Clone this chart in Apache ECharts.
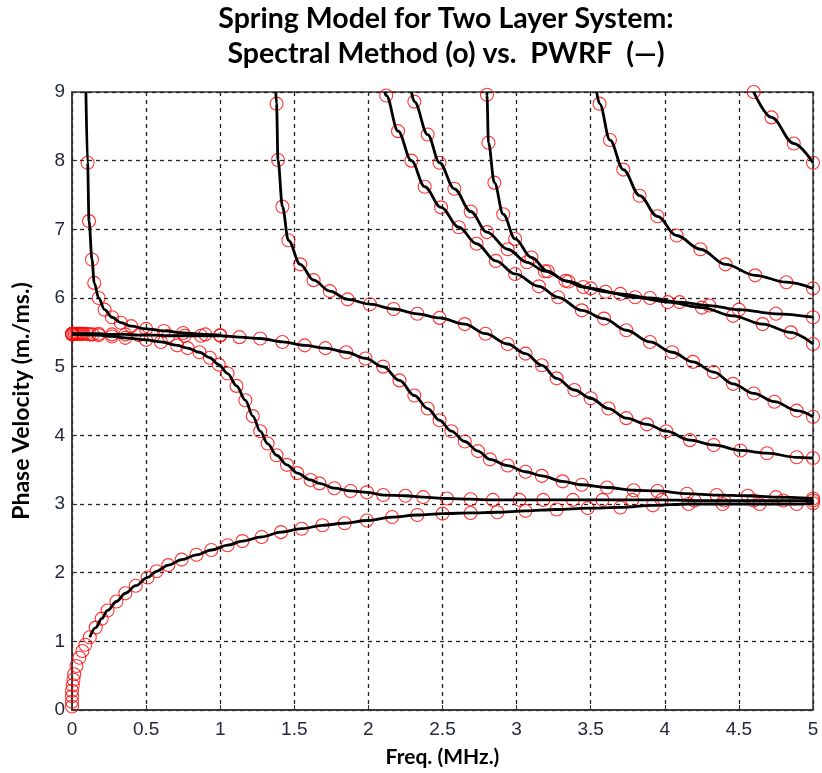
<!DOCTYPE html>
<html>
<head>
<meta charset="utf-8">
<title>Spring Model for Two Layer System</title>
<script src="https://cdn.jsdelivr.net/npm/echarts@6/dist/echarts.min.js"></script>
<style>
  html, body { margin: 0; padding: 0; background: #fff; }
  #chart { width: 822px; height: 773px; }
</style>
</head>
<body>
<div id="chart"></div>
<script>
// x = frequency (MHz), y = phase velocity (m/ms)
const xTicks = [0, 0.5, 1, 1.5, 2, 2.5, 3, 3.5, 4, 4.5, 5];
const yTicks = [0, 1, 2, 3, 4, 5, 6, 7, 8, 9];

const modeA = [
  [0, 0.05], [0, 0.12], [0, 0.2], [0, 0.28], [0.005, 0.36], [0.01, 0.44], [0.015, 0.52],
  [0.03, 0.64], [0.05, 0.76], [0.07, 0.86], [0.09, 0.95], [0.12, 1.06], [0.16, 1.2],
  [0.2, 1.33], [0.24, 1.45], [0.3, 1.58], [0.36, 1.7], [0.43, 1.81], [0.51, 1.93],
  [0.57, 2.02], [0.65, 2.11], [0.74, 2.19], [0.84, 2.26], [0.94, 2.33], [1.05, 2.4],
  [1.15, 2.46], [1.28, 2.52], [1.41, 2.59], [1.55, 2.64], [1.69, 2.69], [1.84, 2.72],
  [1.99, 2.76], [2.16, 2.81], [2.33, 2.84], [2.5, 2.86], [2.69, 2.87], [2.87, 2.88],
  [3.06, 2.9], [3.27, 2.92], [3.48, 2.94], [3.7, 2.95], [3.92, 2.98], [4.16, 3.0],
  [4.39, 3.0], [4.64, 3.0], [4.89, 3.0], [5.0, 3.01]
];

const modeB = [
  [0, 5.47], [0.18, 5.46], [0.27, 5.44], [0.36, 5.42], [0.5, 5.39], [0.6, 5.36],
  [0.71, 5.31], [0.78, 5.27], [0.86, 5.21], [0.93, 5.13], [0.99, 5.03], [1.05, 4.9],
  [1.11, 4.72], [1.17, 4.51], [1.22, 4.28], [1.27, 4.06], [1.32, 3.88], [1.38, 3.71],
  [1.45, 3.57], [1.52, 3.45], [1.61, 3.35], [1.67, 3.3], [1.77, 3.23], [1.88, 3.19],
  [1.99, 3.17], [2.1, 3.13], [2.25, 3.12], [2.37, 3.1], [2.53, 3.08], [2.69, 3.07],
  [2.84, 3.06], [3.02, 3.06], [3.18, 3.06], [3.38, 3.06], [3.58, 3.06], [3.78, 3.06],
  [3.98, 3.06], [4.2, 3.05], [4.4, 3.05], [4.6, 3.05], [4.8, 3.05], [5.0, 3.05]
];

const modeC = [
  [0, 5.48], [0.18, 5.48], [0.27, 5.47], [0.36, 5.47], [0.45, 5.46], [0.55, 5.46],
  [0.65, 5.45], [0.76, 5.45], [0.87, 5.45], [1.0, 5.45], [1.13, 5.43], [1.27, 5.41],
  [1.42, 5.36], [1.57, 5.31], [1.71, 5.27], [1.85, 5.21], [1.98, 5.12], [2.1, 5.0],
  [2.21, 4.8], [2.31, 4.58], [2.4, 4.39], [2.48, 4.22], [2.56, 4.06], [2.65, 3.91],
  [2.74, 3.77], [2.82, 3.65], [2.94, 3.56], [3.06, 3.47], [3.17, 3.41], [3.31, 3.33],
  [3.44, 3.28], [3.61, 3.24], [3.79, 3.2], [3.95, 3.19], [4.15, 3.15], [4.35, 3.13],
  [4.56, 3.12], [4.75, 3.1], [5.0, 3.08]
];

const modeD = [
  [0.105, 7.97], [0.115, 7.12], [0.135, 6.56], [0.15, 6.22], [0.18, 6.0], [0.22, 5.83],
  [0.27, 5.72], [0.33, 5.64], [0.4, 5.59], [0.5, 5.55], [0.62, 5.52], [0.75, 5.49],
  [0.9, 5.47], [1.0, 5.46]
];

const modeE = [
  [1.38, 8.83], [1.39, 8.01], [1.42, 7.33], [1.46, 6.84], [1.54, 6.49], [1.63, 6.26],
  [1.74, 6.1], [1.86, 5.98], [2.01, 5.91], [2.17, 5.84], [2.33, 5.77], [2.48, 5.71],
  [2.65, 5.62], [2.79, 5.48], [2.94, 5.33], [3.06, 5.19], [3.17, 5.02], [3.27, 4.83],
  [3.39, 4.66], [3.5, 4.54], [3.62, 4.39], [3.74, 4.25], [3.88, 4.16], [4.01, 4.06],
  [4.17, 3.93], [4.33, 3.86], [4.51, 3.78], [4.69, 3.74], [4.89, 3.68], [5.0, 3.67]
];

const modeG = [
  [2.12, 8.95], [2.2, 8.43], [2.29, 8.0], [2.38, 7.62], [2.49, 7.32], [2.61, 7.03],
  [2.73, 6.79], [2.86, 6.54], [2.99, 6.35], [3.15, 6.17], [3.28, 6.01], [3.44, 5.82],
  [3.59, 5.7], [3.74, 5.53], [3.9, 5.36], [4.05, 5.21], [4.19, 5.07], [4.33, 4.92],
  [4.46, 4.75], [4.6, 4.61], [4.74, 4.49], [4.89, 4.36], [5.0, 4.27]
];

const modeH = [
  [2.31, 8.86], [2.4, 8.38], [2.48, 7.97], [2.58, 7.59], [2.69, 7.26], [2.8, 6.96],
  [2.94, 6.71], [3.07, 6.52], [3.19, 6.39], [3.35, 6.24], [3.5, 6.14], [3.7, 6.06],
  [3.9, 6.0], [4.1, 5.94], [4.3, 5.89], [4.5, 5.83], [4.75, 5.77], [5.0, 5.72]
];

const modeI = [
  [2.8, 8.96], [2.81, 8.26], [2.85, 7.68], [2.91, 7.22], [2.99, 6.86], [3.1, 6.59],
  [3.21, 6.39], [3.33, 6.25], [3.45, 6.16], [3.6, 6.09], [3.8, 6.01], [4.02, 5.94],
  [4.25, 5.86], [4.46, 5.74], [4.66, 5.62], [4.85, 5.5], [5.0, 5.33]
];

const modeJ = [
  [3.56, 8.83], [3.63, 8.3], [3.72, 7.87], [3.83, 7.49], [3.95, 7.19], [4.08, 6.91],
  [4.24, 6.71], [4.41, 6.49], [4.61, 6.33], [4.82, 6.23], [5.0, 6.14]
];

const modeK = [[4.6, 9.0], [4.72, 8.63], [4.87, 8.25], [5.0, 7.97]];

// extra spectral points crowded on the 5.48 plateau at low frequency
const plateauDots = [
  [0, 5.48], [0.01, 5.48], [0.02, 5.48], [0.03, 5.48], [0.04, 5.48], [0.05, 5.48],
  [0.06, 5.48], [0.07, 5.48], [0.08, 5.48], [0.1, 5.48], [0.12, 5.47], [0.14, 5.47]
];

// where each branch leaves the top of the plot (v = 9)
const topFreq = { D: 0.094, E: 1.375, G: 2.11, H: 2.29, I: 2.8, J: 3.54, K: 4.6 };

const modes = [
  { id: 'A', pts: modeA, lineFrom: 0.12 },
  { id: 'B', pts: modeB },
  { id: 'C', pts: modeC },
  { id: 'D', pts: modeD },
  { id: 'E', pts: modeE },
  { id: 'G', pts: modeG },
  { id: 'H', pts: modeH },
  { id: 'I', pts: modeI },
  { id: 'J', pts: modeJ },
  { id: 'K', pts: modeK }
];

const chart = echarts.init(document.getElementById('chart'));

const circleStyle = { color: 'rgba(0,0,0,0)', borderColor: '#ff0000', borderWidth: 1.1 };
const series = [];

modes.forEach(m => {
  series.push({
    name: 'spectral ' + m.id,
    type: 'scatter',
    data: m.pts,
    symbol: 'circle',
    symbolSize: 13,
    itemStyle: circleStyle,
    z: 2,
    silent: true
  });
});

series.push({
  name: 'spectral plateau',
  type: 'scatter',
  data: plateauDots,
  symbol: 'circle',
  symbolSize: 13,
  itemStyle: circleStyle,
  z: 2,
  silent: true
});

modes.forEach(m => {
  let data = m.pts;
  if (m.lineFrom != null) data = data.filter(p => p[0] >= m.lineFrom);
  if (topFreq[m.id] != null) data = [[topFreq[m.id], 9]].concat(data);
  series.push({
    name: 'pwrf ' + m.id,
    type: 'line',
    data: data,
    showSymbol: false,
    smooth: 0.35,
    smoothMonotone: 'x',
    lineStyle: { color: '#000', width: 2.8 },
    z: 3,
    silent: true
  });
});

const option = {
  backgroundColor: '#fff',
  animation: false,
  title: {
    text: 'Spring Model for Two Layer System:\nSpectral Method (o) vs.  PWRF  (\u2014)',
    left: 441,
    top: -4,
    textAlign: 'center',
    textStyle: {
      fontFamily: 'Lato',
      fontSize: 28.5,
      fontWeight: 'bold',
      color: '#000',
      lineHeight: 35
    }
  },
  grid: {
    left: 72,
    right: 9,
    top: 92,
    bottom: 60,
    show: true,
    borderColor: '#333',
    borderWidth: 1.5,
    backgroundColor: '#fff'
  },
  xAxis: {
    type: 'value',
    min: xTicks[0],
    max: xTicks[xTicks.length - 1],
    interval: 0.5,
    name: 'Freq. (MHz.)',
    nameLocation: 'middle',
    nameGap: 37,
    nameTextStyle: { fontFamily: 'Lato', fontSize: 21, fontWeight: 'bold', color: '#000' },
    axisLine: { show: true, lineStyle: { color: '#333', width: 1.5 } },
    axisTick: { show: true, inside: true, length: 5, lineStyle: { color: '#333' } },
    axisLabel: { fontFamily: 'Liberation Sans', fontSize: 19, color: '#25283a', margin: 10 },
    splitLine: { show: true, lineStyle: { color: '#222', type: [4, 4], width: 1.3 } }
  },
  yAxis: {
    type: 'value',
    min: yTicks[0],
    max: yTicks[yTicks.length - 1],
    interval: 1,
    name: 'Phase Velocity (m./ms.)',
    nameLocation: 'middle',
    nameGap: 39,
    nameRotate: 90,
    nameTextStyle: { fontFamily: 'Lato', fontSize: 23, fontWeight: 'bold', color: '#000' },
    axisLine: { show: true, lineStyle: { color: '#333', width: 1.5 } },
    axisTick: { show: true, inside: true, length: 5, lineStyle: { color: '#333' } },
    axisLabel: { fontFamily: 'Liberation Sans', fontSize: 19, color: '#25283a', margin: 7 },
    splitLine: { show: true, lineStyle: { color: '#222', type: [4, 4], width: 1.3 } }
  },
  series: series
};

chart.setOption(option);
</script>
</body>
</html>
